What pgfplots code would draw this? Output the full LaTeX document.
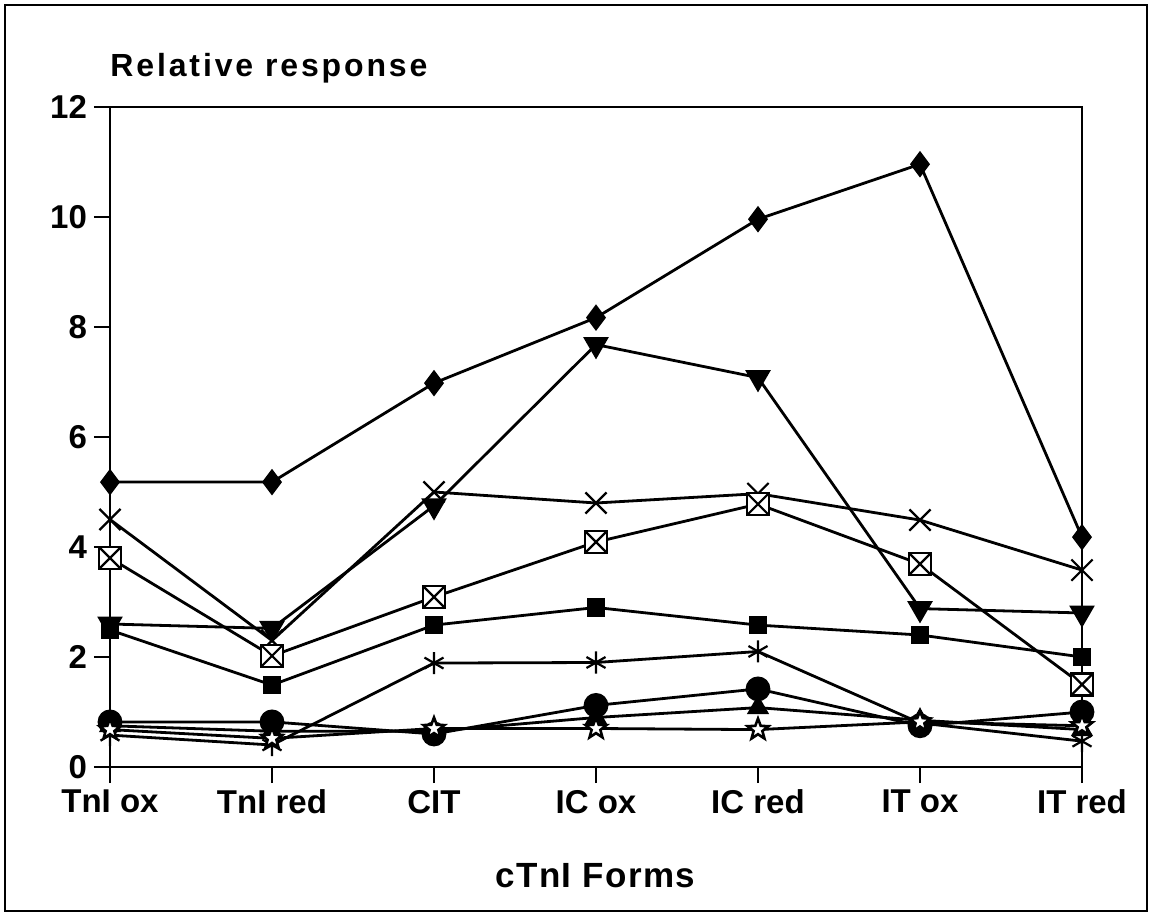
\documentclass[border=0pt]{standalone}
\usepackage{fontspec}
\setmainfont{Liberation Sans}
\usepackage{pgfplots}
\pgfplotsset{compat=1.18}
\pgfdeclareplotmark{boxx}{%
  \pgfpathrectangle{\pgfqpoint{-\pgfplotmarksize}{-\pgfplotmarksize}}{\pgfqpoint{2\pgfplotmarksize}{2\pgfplotmarksize}}%
  \pgfusepathqfillstroke
  \pgfpathmoveto{\pgfqpoint{-\pgfplotmarksize}{-\pgfplotmarksize}}\pgfpathlineto{\pgfqpoint{\pgfplotmarksize}{\pgfplotmarksize}}%
  \pgfpathmoveto{\pgfqpoint{-\pgfplotmarksize}{\pgfplotmarksize}}\pgfpathlineto{\pgfqpoint{\pgfplotmarksize}{-\pgfplotmarksize}}%
  \pgfusepathqstroke}
\pgfdeclareplotmark{ostar}{%
  \pgfpathmoveto{\pgfqpointpolar{90}{\pgfplotmarksize}}%
  \pgfpathlineto{\pgfqpointpolar{126}{0.42\pgfplotmarksize}}%
  \pgfpathlineto{\pgfqpointpolar{162}{\pgfplotmarksize}}%
  \pgfpathlineto{\pgfqpointpolar{198}{0.42\pgfplotmarksize}}%
  \pgfpathlineto{\pgfqpointpolar{234}{\pgfplotmarksize}}%
  \pgfpathlineto{\pgfqpointpolar{270}{0.42\pgfplotmarksize}}%
  \pgfpathlineto{\pgfqpointpolar{306}{\pgfplotmarksize}}%
  \pgfpathlineto{\pgfqpointpolar{342}{0.42\pgfplotmarksize}}%
  \pgfpathlineto{\pgfqpointpolar{18}{\pgfplotmarksize}}%
  \pgfpathlineto{\pgfqpointpolar{54}{0.42\pgfplotmarksize}}%
  \pgfpathclose
  \pgfusepathqfillstroke}
\begin{document}
\begin{tikzpicture}
\useasboundingbox (-55pt,-74.5pt) rectangle (521pt,383.5pt);
\draw[line width=1.1pt] (-52.5pt,-72pt) rectangle (518.5pt,381pt);
\begin{axis}[
  at={(0pt,0pt)}, anchor=south west,
  scale only axis, width=486pt, height=330pt,
  xmin=0, xmax=6, ymin=0, ymax=12,
  axis line style={line width=1.1pt},
  xtick={0,1,2,3,4,5,6},
  xticklabels={TnI ox, TnI red, CIT, IC ox, IC red, IT ox, IT red},
  ytick={0,2,4,6,8,10,12},
  tick align=outside, major tick length=8pt,
  xtick pos=bottom, ytick pos=left,
  tick style={line width=0.9pt, black},
  /pgf/number format/assume math mode=true,
  ticklabel style={font=\bfseries\fontsize{16.5}{20}\selectfont},
  clip=false,
  every axis plot/.append style={line width=1.4pt, black, solid},
]
% diamond
\addplot[mark=diamond*, mark size=5.5pt, mark options={fill=black}] coordinates {(0,5.18)(1,5.18)(2,6.98)(3,8.17)(4,9.96)(5,10.96)(6,4.18)};
% inverted triangle
\addplot[mark=triangle*, mark size=6pt, mark options={fill=black, rotate=180}] coordinates {(0,2.6)(1,2.52)(2,4.75)(3,7.68)(4,7.08)(5,2.88)(6,2.8)};
% x cross
\addplot[mark=x, mark size=7.5pt, mark options={line width=1.1pt}] coordinates {(0,4.5)(1,2.3)(2,5.0)(3,4.8)(4,4.97)(5,4.49)(6,3.58)};
% boxed x
\addplot[mark=boxx, mark size=5.5pt, mark options={fill=white, line width=1.1pt}] coordinates {(0,3.8)(1,2.02)(2,3.09)(3,4.09)(4,4.78)(5,3.69)(6,1.5)};
% filled square
\addplot[mark=square*, mark size=4pt, mark options={fill=black}] coordinates {(0,2.49)(1,1.49)(2,2.58)(3,2.9)(4,2.58)(5,2.4)(6,2.0)};
% asterisk
\addplot[mark=asterisk, mark size=5.5pt, mark options={line width=1.1pt}] coordinates {(0,0.58)(1,0.4)(2,1.89)(3,1.9)(4,2.1)(5,0.8)(6,0.47)};
% circle
\addplot[mark=*, mark size=5.5pt, mark options={fill=black}] coordinates {(0,0.82)(1,0.82)(2,0.6)(3,1.12)(4,1.42)(5,0.75)(6,1.0)};
% triangle
\addplot[mark=triangle*, mark size=5pt, mark options={fill=black}] coordinates {(0,0.75)(1,0.65)(2,0.65)(3,0.9)(4,1.08)(5,0.85)(6,0.68)};
% star
\addplot[mark=ostar, mark size=5.5pt, mark options={fill=white, line width=1.3pt}] coordinates {(0,0.68)(1,0.52)(2,0.7)(3,0.7)(4,0.68)(5,0.82)(6,0.75)};
\end{axis}
\node[anchor=base west, inner sep=0pt, font=\bfseries\fontsize{16}{19}\selectfont\addfontfeature{LetterSpace=9}] at (0pt,345pt) {Relative response};
\node[anchor=base, inner sep=0pt, font=\bfseries\fontsize{17.5}{21}\selectfont\addfontfeature{LetterSpace=4}] at (242.75pt,-60pt) {cTnI Forms};
\end{tikzpicture}
\end{document}
